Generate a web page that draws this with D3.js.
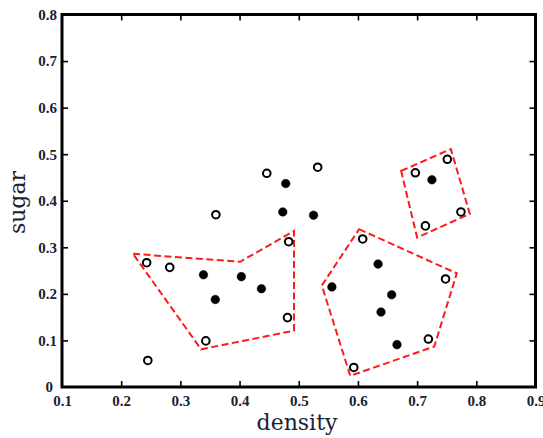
<!DOCTYPE html>
<html>
<head>
<meta charset="utf-8">
<script src="https://cdn.jsdelivr.net/npm/d3@7/dist/d3.min.js"></script>
<style>
  html, body { margin: 0; padding: 0; background: #fff; overflow: hidden; }
  svg { display: block; }
</style>
</head>
<body>
<svg id="chart" width="543" height="438"></svg>
<script>
// Watermelon samples: density vs. sugar content
const density = [0.697, 0.774, 0.634, 0.608, 0.556, 0.403, 0.481, 0.437, 0.666, 0.243,
                 0.245, 0.343, 0.639, 0.657, 0.360, 0.593, 0.719, 0.359, 0.339, 0.282,
                 0.748, 0.714, 0.483, 0.478, 0.525, 0.751, 0.532, 0.473, 0.725, 0.446];
const sugar   = [0.460, 0.376, 0.264, 0.318, 0.215, 0.237, 0.149, 0.211, 0.091, 0.267,
                 0.057, 0.099, 0.161, 0.198, 0.370, 0.042, 0.103, 0.188, 0.241, 0.257,
                 0.232, 0.346, 0.312, 0.437, 0.369, 0.489, 0.472, 0.376, 0.445, 0.459];
// true = core sample (filled), false = other sample (open)
const isCore  = [false, false, true, false, true, true, false, true, true, false,
                 false, false, true, true, false, false, false, true, true, false,
                 false, false, false, true, true, false, false, true, true, false];

// Cluster outlines (density, sugar vertices)
const clusterA = [[0.220, 0.286], [0.401, 0.269], [0.492, 0.335], [0.492, 0.121], [0.335, 0.081]];
const clusterB = [[0.602, 0.339], [0.767, 0.244], [0.729, 0.087], [0.587, 0.024], [0.539, 0.218]];
const clusterC = [[0.673, 0.464], [0.757, 0.511], [0.789, 0.372], [0.700, 0.321]];

const xTicks = [0.1, 0.2, 0.3, 0.4, 0.5, 0.6, 0.7, 0.8, 0.9];
const yTicks = [0, 0.1, 0.2, 0.3, 0.4, 0.5, 0.6, 0.7, 0.8];

const svg = d3.select("#chart");
const plotL = 62, plotR = 535.5, plotT = 14.5, plotB = 387;

const x = d3.scaleLinear().domain([0.1, 0.9]).range([plotL, plotR]);
const y = d3.scaleLinear().domain([0, 0.8]).range([plotB, plotT]);

const labelColor = "#1b2133";
const tickFont = "'Liberation Serif', 'Times New Roman', serif";
const titleFont = "'DejaVu Serif', serif";
const fmt = d => d === 0 ? "0" : d3.format(".1f")(d);

// Axes with inward ticks on all four sides
const tickLen = 6;
const axisBottom = d3.axisBottom(x).tickValues(xTicks).tickFormat(fmt).tickSizeInner(-tickLen).tickSizeOuter(0).tickPadding(8.5);
const axisTop = d3.axisTop(x).tickValues(xTicks.slice(1, -1)).tickFormat("").tickSizeInner(-tickLen).tickSizeOuter(0);
const axisLeft = d3.axisLeft(y).tickValues(yTicks).tickFormat(fmt).tickSizeInner(-tickLen).tickSizeOuter(0).tickPadding(5);
const axisRight = d3.axisRight(y).tickValues(yTicks.slice(1, -1)).tickFormat("").tickSizeInner(-tickLen).tickSizeOuter(0);

function styleAxis(g) {
  g.select(".domain").remove();
  g.selectAll(".tick line").attr("stroke", "#000").attr("stroke-width", 1.6);
  g.selectAll(".tick text")
    .attr("fill", labelColor)
    .style("font-family", tickFont)
    .style("font-weight", "bold")
    .style("font-size", "15px");
}

const gx = svg.append("g").attr("transform", `translate(0,${plotB})`).call(axisBottom).call(styleAxis);
gx.selectAll(".tick line").filter(d => d === 0.1 || d === 0.9).remove();
svg.append("g").attr("transform", `translate(0,${plotT})`).call(axisTop).call(styleAxis);
const gy = svg.append("g").attr("transform", `translate(${plotL},0)`).call(axisLeft).call(styleAxis);
gy.selectAll(".tick line").filter(d => d === 0 || d === 0.8).remove();
gy.selectAll(".tick text").filter(d => d === 0).attr("x", -9);
svg.append("g").attr("transform", `translate(${plotR},0)`).call(axisRight).call(styleAxis);

// Frame
svg.append("rect")
  .attr("x", plotL).attr("y", plotT)
  .attr("width", plotR - plotL).attr("height", plotB - plotT)
  .attr("fill", "none").attr("stroke", "#000").attr("stroke-width", 3);

// Cluster outlines
const line = d3.line().x(d => x(d[0])).y(d => y(d[1])).curve(d3.curveLinearClosed);
svg.append("g").selectAll("path")
  .data([clusterA, clusterB, clusterC])
  .join("path")
  .attr("d", line)
  .attr("fill", "none")
  .attr("stroke", "#ff1a1a")
  .attr("stroke-width", 2)
  .attr("stroke-dasharray", "7,3.5");

// Samples
const pts = density.map((d, i) => ({ d, s: sugar[i], core: isCore[i] }));
svg.append("g").selectAll("circle")
  .data(pts)
  .join("circle")
  .attr("cx", p => x(p.d))
  .attr("cy", p => y(p.s))
  .attr("r", p => p.core ? 4.3 : 3.8)
  .attr("fill", p => p.core ? "#000" : "#fff")
  .attr("stroke", "#000")
  .attr("stroke-width", p => p.core ? 0.5 : 2);

// Axis titles
svg.append("text")
  .attr("x", 297).attr("y", 430)
  .attr("text-anchor", "middle")
  .attr("fill", labelColor)
  .style("font-family", titleFont)
  .style("font-size", "22px")
  .text("density");

svg.append("text")
  .attr("transform", "translate(25,202.5) rotate(-90)")
  .attr("text-anchor", "middle")
  .attr("fill", labelColor)
  .style("font-family", titleFont)
  .style("font-size", "22px")
  .text("sugar");
</script>
</body>
</html>
